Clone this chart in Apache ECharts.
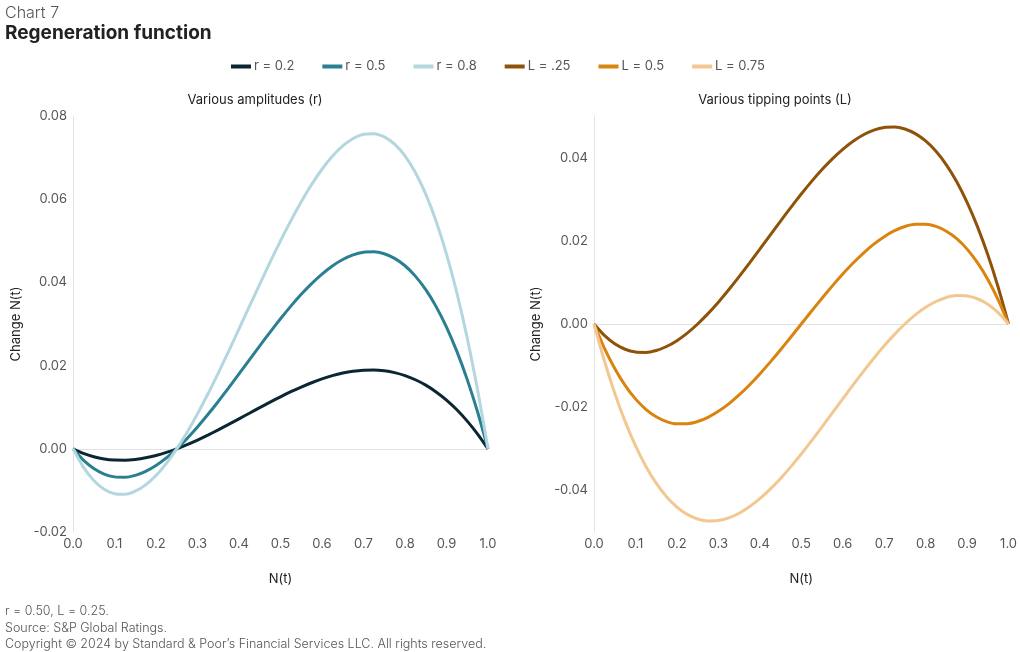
<!DOCTYPE html>
<html>
<head>
<meta charset="utf-8">
<script src="https://cdn.jsdelivr.net/npm/echarts@6/dist/echarts.min.js"></script>
<style>
html,body{margin:0;padding:0;background:#fff;}
#c{width:1020px;height:652px;}
</style>
</head>
<body>
<div id="c"></div>
<script>
// N(t) positions
var nValues = [0,0.025,0.05,0.075,0.1,0.125,0.15,0.175,0.2,0.225,0.25,0.275,0.3,0.325,0.35,0.375,0.4,0.425,0.45,0.475,0.5,
  0.525,0.55,0.575,0.6,0.625,0.65,0.675,0.7,0.725,0.75,0.775,0.8,0.825,0.85,0.875,0.9,0.925,0.95,0.975,1.0];
// Left panel: various amplitudes (r)
var r02 = [0,-0.0011,-0.0019,-0.00243,-0.0027,-0.00273,-0.00255,-0.00217,-0.0016,-0.00087,0,0.001,0.0021,0.00329,0.00455,0.00586,0.0072,0.00855,0.0099,0.01122,0.0125,
  0.01372,0.01485,0.01588,0.0168,0.01758,0.0182,0.01865,0.0189,0.01894,0.01875,0.01831,0.0176,0.0166,0.0153,0.01367,0.0117,0.00937,0.00665,0.00353,0];
var r05 = [0,-0.00274,-0.00475,-0.00607,-0.00675,-0.00684,-0.00638,-0.00541,-0.004,-0.00218,0,0.00249,0.00525,0.00823,0.01138,0.01465,0.018,0.02138,0.02475,0.02805,0.03125,
  0.03429,0.03713,0.03971,0.042,0.04395,0.0455,0.04662,0.04725,0.04735,0.04688,0.04577,0.044,0.04151,0.03825,0.03418,0.02925,0.02341,0.01663,0.00884,0];
var r08 = [0,-0.00439,-0.0076,-0.00971,-0.0108,-0.01094,-0.0102,-0.00866,-0.0064,-0.00349,0,0.00399,0.0084,0.01316,0.0182,0.02344,0.0288,0.03421,0.0396,0.04489,0.05,
  0.05486,0.0594,0.06354,0.0672,0.07031,0.0728,0.07459,0.0756,0.07576,0.075,0.07324,0.0704,0.06641,0.0612,0.05469,0.0468,0.03746,0.0266,0.01414,0];
// Right panel: various tipping points (L)
var L025 = [0,-0.00274,-0.00475,-0.00607,-0.00675,-0.00684,-0.00638,-0.00541,-0.004,-0.00218,0,0.00249,0.00525,0.00823,0.01138,0.01465,0.018,0.02138,0.02475,0.02805,0.03125,
  0.03429,0.03713,0.03971,0.042,0.04395,0.0455,0.04662,0.04725,0.04735,0.04688,0.04577,0.044,0.04151,0.03825,0.03418,0.02925,0.02341,0.01663,0.00884,0];
var L05 = [0,-0.00579,-0.01069,-0.01474,-0.018,-0.02051,-0.02231,-0.02346,-0.024,-0.02398,-0.02344,-0.02243,-0.021,-0.0192,-0.01706,-0.01465,-0.012,-0.00916,-0.00619,-0.00312,0,
  0.00312,0.00619,0.00916,0.012,0.01465,0.01706,0.0192,0.021,0.02243,0.02344,0.02398,0.024,0.02346,0.02231,0.02051,0.018,0.01474,0.01069,0.00579,0];
var L075 = [0,-0.00884,-0.01663,-0.02341,-0.02925,-0.03418,-0.03825,-0.04151,-0.044,-0.04577,-0.04688,-0.04735,-0.04725,-0.04662,-0.0455,-0.04395,-0.042,-0.03971,-0.03713,-0.03429,-0.03125,
  -0.02805,-0.02475,-0.02138,-0.018,-0.01465,-0.01138,-0.00823,-0.00525,-0.00249,0,0.00218,0.004,0.00541,0.00638,0.00684,0.00675,0.00607,0.00475,0.00274,0];

var seriesNames = ['r = 0.2','r = 0.5','r = 0.8','L = .25','L = 0.5','L = 0.75'];
var seriesColors = ['#0b2633','#2a7f91','#b4d6de','#8e5309','#d9840f','#f3c890'];
var seriesData = [r02, r05, r08, L025, L05, L075];

var FONT = 'Inter, "Noto Sans", sans-serif';
var chart = echarts.init(document.getElementById('c'));

function pairs(arr){ return nValues.map(function(n,i){ return [n, arr[i]]; }); }

var series = seriesData.map(function(arr, i){
  var s = {
    name: seriesNames[i],
    type: 'line',
    xAxisIndex: i < 3 ? 0 : 1,
    yAxisIndex: i < 3 ? 0 : 1,
    data: pairs(arr),
    smooth: 0.2,
    showSymbol: false,
    symbol: 'none',
    lineStyle: { width: 3, color: seriesColors[i] },
    itemStyle: { color: seriesColors[i] },
    z: 3
  };
  if (i === 0 || i === 3) {
    s.markLine = {
      silent: true, symbol: 'none', label: { show: false },
      lineStyle: { color: '#e2e2e2', width: 1, type: 'solid' },
      data: [{ yAxis: 0 }], z: 1
    };
  }
  return s;
});

function xAx(idx){
  return {
    type: 'value', gridIndex: idx, min: 0, max: 1, interval: 0.1,
    name: 'N(t)', nameLocation: 'middle', nameGap: 41,
    nameTextStyle: { fontFamily: FONT, fontSize: 13, color: '#222' },
    axisLine: { show: false }, axisTick: { show: false }, splitLine: { show: false },
    axisLabel: { fontFamily: FONT, fontSize: 13, color: '#555', margin: 6,
      formatter: function(v){ return v.toFixed(1); } }
  };
}

var option = {
  backgroundColor: '#fff',
  animation: false,
  title: [
    { text: 'Chart 7', left: 0, top: 0, textStyle: { fontFamily: FONT, fontSize: 16, fontWeight: 300, color: '#555' } },
    { text: 'Regeneration function', left: 0, top: 19, textStyle: { fontFamily: FONT, fontSize: 19, fontWeight: 'bold', color: '#222' } },
    { text: 'Various amplitudes (r)', left: 250, top: 89, textAlign: 'center', textStyle: { fontFamily: FONT, fontSize: 13, fontWeight: 'normal', color: '#222' } },
    { text: 'Various tipping points (L)', left: 770, top: 89, textAlign: 'center', textStyle: { fontFamily: FONT, fontSize: 13, fontWeight: 'normal', color: '#222' } },
    { text: 'r = 0.50, L = 0.25.\nSource: S&P Global Ratings.\nCopyright \u00a9 2024 by Standard & Poor\u2019s Financial Services LLC. All rights reserved.',
      left: 0, top: 598, textStyle: { fontFamily: FONT, fontSize: 12.5, fontWeight: 300, color: '#555', lineHeight: 16.5 } }
  ],
  legend: {
    top: 55, left: 226,
    icon: 'rect', itemWidth: 20, itemHeight: 4, itemGap: 28,
    textStyle: { fontFamily: FONT, fontSize: 13, color: '#555', padding: [0,0,0,-2] },
    data: seriesNames
  },
  grid: [
    { left: 73, right: 532, top: 116, bottom: 120 },
    { left: 594, right: 11, top: 116, bottom: 120 }
  ],
  xAxis: [xAx(0), xAx(1)],
  yAxis: [
    { type: 'value', gridIndex: 0, min: -0.02, max: 0.08, interval: 0.02,
      name: 'Change N(t)', nameLocation: 'middle', nameGap: 50,
      nameTextStyle: { fontFamily: FONT, fontSize: 13, color: '#222' },
      axisLine: { show: true, lineStyle: { color: '#e2e2e2', width: 1 } },
      axisTick: { show: false }, splitLine: { show: false },
      axisLabel: { fontFamily: FONT, fontSize: 13, color: '#555', margin: 6,
        formatter: function(v){ return v.toFixed(2); } } },
    { type: 'value', gridIndex: 1, min: -0.05, max: 0.05, interval: 0.01,
      name: 'Change N(t)', nameLocation: 'middle', nameGap: 51,
      nameTextStyle: { fontFamily: FONT, fontSize: 13, color: '#222' },
      axisLine: { show: true, lineStyle: { color: '#e2e2e2', width: 1 } },
      axisTick: { show: false }, splitLine: { show: false },
      axisLabel: { fontFamily: FONT, fontSize: 13, color: '#555', margin: 6,
        formatter: function(v){
          var k = Math.round(v * 100);
          if (k % 2 !== 0) return '';
          return (k / 100).toFixed(2);
        } } }
  ],
  series: series
};
chart.setOption(option);
</script>
</body>
</html>
